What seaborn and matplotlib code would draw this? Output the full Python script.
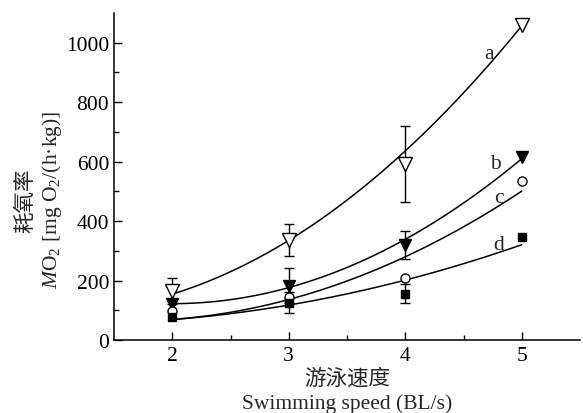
import numpy as np
import pandas as pd
import matplotlib
matplotlib.use("Agg")
import matplotlib.pyplot as plt
import seaborn as sns

# ---- data ----
speed = [2, 3, 4, 5]
groups = ["a", "b", "c", "d"]
mean_a = [165, 337, 593, 1060]
mean_b = [121, 183, 320, 615]
mean_c = [97, 145, 210, 535]
mean_d = [78, 125, 155, 345]
err_a = [44, 53, 128, 0]
err_b = [0, 59, 48, 0]
err_c = [0, 0, 0, 0]
err_d = [0, 35, 32, 0]
# quadratic fit coefficients (c2, c1, c0) of the fitted curves as drawn
fit_a = [60.0, -119.2, 152.7]
fit_b = [54.25, -217.25, 339.75]
fit_c = [38.5, -125.7, 166.7]
fit_d = [17.5, -38.5, 75.5]
# curve label positions (x, y)
lab_pos = {"a": (4.72, 963), "b": (4.77, 593), "c": (4.80, 478), "d": (4.80, 320)}

sns.set_theme(style="ticks")
plt.rcParams["font.family"] = ["Liberation Serif", "Noto Sans CJK SC"]
plt.rcParams["mathtext.fontset"] = "custom"
plt.rcParams["mathtext.rm"] = "Liberation Serif"
plt.rcParams["mathtext.it"] = "Liberation Serif:italic"

FS = 15.5
fig = plt.figure(figsize=(5.83, 4.14), dpi=100)
ax = fig.add_axes([114 / 583, 1 - 341 / 414, 466 / 583, 327 / 414])

means = {"a": mean_a, "b": mean_b, "c": mean_c, "d": mean_d}
errs = {"a": err_a, "b": err_b, "c": err_c, "d": err_d}
fits = {"a": fit_a, "b": fit_b, "c": fit_c, "d": fit_d}
styles = {
    "a": dict(marker="v", ms=10.5, mfc="white", mec="black", mew=1.0),
    "b": dict(marker="v", ms=8, mfc="black", mec="black", mew=1.0),
    "c": dict(marker="o", ms=6.5, mfc="white", mec="black", mew=1.0),
    "d": dict(marker="s", ms=5.5, mfc="black", mec="black", mew=1.0),
}

xs = np.linspace(2, 5, 200)
rows = []
for g in groups:
    ys = np.polyval(fits[g], xs)
    for x, y in zip(xs, ys):
        rows.append({"speed": x, "mo2": y, "group": g})
curves = pd.DataFrame(rows)
sns.lineplot(data=curves, x="speed", y="mo2", units="group", estimator=None,
             color="black", lw=1.1, ax=ax, zorder=2, legend=False)

for g in groups:
    m = np.array(means[g], dtype=float)
    e = np.array(errs[g], dtype=float)
    x = np.array(speed, dtype=float)
    mask = e > 0
    if mask.any():
        ax.errorbar(x[mask], m[mask], yerr=e[mask], fmt="none", ecolor="black",
                    elinewidth=1.0, capsize=3.5, capthick=1.0, zorder=3)
    ax.plot(x, m, ls="none", zorder=4, **styles[g])

for g in groups:
    px, py = lab_pos[g]
    ax.text(px, py, g, fontsize=FS, ha="center", va="center", zorder=5)

ax.set_xlim(1.5, 5.5)
ax.set_ylim(0, 1100)
ax.set_xticks(speed)
ax.set_xticklabels([str(s) for s in speed])
ax.set_yticks([0, 200, 400, 600, 800, 1000])
ax.set_xticks([2.5, 3.5, 4.5], minor=True)
ax.set_yticks(np.arange(100, 1100, 200), minor=True)
ax.tick_params(which="both", direction="in", color="black", width=1.0,
               labelsize=FS, labelcolor="black")
ax.tick_params(which="major", length=6)
ax.tick_params(which="minor", length=3.5)
ax.tick_params(axis="x", pad=4)
for s in ["top", "right"]:
    ax.spines[s].set_visible(False)
for s in ["left", "bottom"]:
    ax.spines[s].set_color("black")
    ax.spines[s].set_linewidth(1.1)

ax.set_xlabel("游泳速度\nSwimming speed (BL/s)", fontsize=FS, linespacing=1.3)
ax.xaxis.set_label_coords(0.5, -0.085)
ax.xaxis.label.set_va("top")
ax.set_ylabel("耗氧率\n$\\mathit{M}$O$_2$ [mg O$_2$/(h·kg)]", fontsize=FS, linespacing=1.2)
ax.yaxis.set_label_coords(-0.107, 0.43)

fig.savefig("out.png", dpi=100)
